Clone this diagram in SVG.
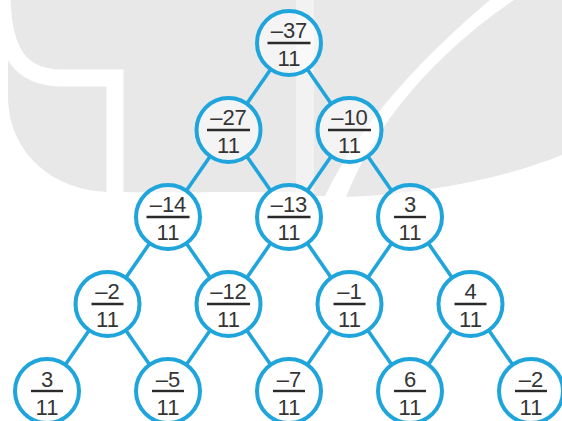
<svg xmlns="http://www.w3.org/2000/svg" width="562" height="421" viewBox="0 0 562 421">
  <style>
    .wm { fill: #e8e8e8; }
    .edge { stroke: #1fa5dc; stroke-width: 3.6; stroke-linecap: butt; }
    .node circle { fill: #ffffff; fill-opacity: 0.5; stroke: #1fa5dc; stroke-width: 4; }
    .bar { stroke: #2a2a2a; stroke-width: 2.4; }
    .num { fill: #353535; font-family: "Liberation Sans", Arial, sans-serif; font-size: 22px; text-anchor: middle; }
  </style>
  <rect width="562" height="421" fill="#ffffff"/>
  <g id="watermark">
    <path class="wm" d="M8,0 H296 V192 H112 C52,192 8,152 8,96 Z"/>
    <path d="M2,-4 C3,55 22,78 62,78 L115,78 L115,200" fill="none" stroke="#ffffff" stroke-width="17"/>
    <rect x="296" y="0" width="18" height="192" fill="#f2f2f2"/>
    <path class="wm" d="M314,0 H490 C428,52 360,122 325,196 H314 Z"/>
    <path class="wm" d="M514,0 H562 V155 C500,180 420,194 346,197 C376,120 440,50 514,0 Z"/>
  </g>
  <g id="connectors">
    <line class="edge" x1="270.7" y1="69.3" x2="246.8" y2="103.7"/>
    <line class="edge" x1="307.3" y1="69.3" x2="331.2" y2="103.7"/>
    <line class="edge" x1="210.2" y1="156.3" x2="186.3" y2="190.7"/>
    <line class="edge" x1="246.8" y1="156.3" x2="270.7" y2="190.7"/>
    <line class="edge" x1="331.2" y1="156.3" x2="307.3" y2="190.7"/>
    <line class="edge" x1="367.8" y1="156.3" x2="391.7" y2="190.7"/>
    <line class="edge" x1="149.7" y1="243.3" x2="125.8" y2="277.7"/>
    <line class="edge" x1="186.3" y1="243.3" x2="210.2" y2="277.7"/>
    <line class="edge" x1="270.7" y1="243.3" x2="246.8" y2="277.7"/>
    <line class="edge" x1="307.3" y1="243.3" x2="331.2" y2="277.7"/>
    <line class="edge" x1="391.7" y1="243.3" x2="367.8" y2="277.7"/>
    <line class="edge" x1="428.3" y1="243.3" x2="452.2" y2="277.7"/>
    <line class="edge" x1="89.2" y1="330.3" x2="65.3" y2="364.7"/>
    <line class="edge" x1="125.8" y1="330.3" x2="149.7" y2="364.7"/>
    <line class="edge" x1="210.2" y1="330.3" x2="186.3" y2="364.7"/>
    <line class="edge" x1="246.8" y1="330.3" x2="270.7" y2="364.7"/>
    <line class="edge" x1="331.2" y1="330.3" x2="307.3" y2="364.7"/>
    <line class="edge" x1="367.8" y1="330.3" x2="391.7" y2="364.7"/>
    <line class="edge" x1="452.2" y1="330.3" x2="428.3" y2="364.7"/>
    <line class="edge" x1="488.8" y1="330.3" x2="512.7" y2="364.7"/>
  </g>
  <g id="n0" class="node" transform="translate(289,43)"><circle r="32"/><line class="bar" x1="-21.5" y1="0" x2="21.5" y2="0"/><text class="num" y="-5">–37</text><text class="num" y="22.5">11</text></g>
  <g id="n1a" class="node" transform="translate(228.5,130)"><circle r="32"/><line class="bar" x1="-21.5" y1="0" x2="21.5" y2="0"/><text class="num" y="-5">–27</text><text class="num" y="22.5">11</text></g>
  <g id="n1b" class="node" transform="translate(349.5,130)"><circle r="32"/><line class="bar" x1="-21.5" y1="0" x2="21.5" y2="0"/><text class="num" y="-5">–10</text><text class="num" y="22.5">11</text></g>
  <g id="n2a" class="node" transform="translate(168,217)"><circle r="32"/><line class="bar" x1="-21.5" y1="0" x2="21.5" y2="0"/><text class="num" y="-5">–14</text><text class="num" y="22.5">11</text></g>
  <g id="n2b" class="node" transform="translate(289,217)"><circle r="32"/><line class="bar" x1="-21.5" y1="0" x2="21.5" y2="0"/><text class="num" y="-5">–13</text><text class="num" y="22.5">11</text></g>
  <g id="n2c" class="node" transform="translate(410,217)"><circle r="32"/><line class="bar" x1="-16" y1="0" x2="16" y2="0"/><text class="num" y="-5">3</text><text class="num" y="22.5">11</text></g>
  <g id="n3a" class="node" transform="translate(107.5,304)"><circle r="32"/><line class="bar" x1="-16" y1="0" x2="16" y2="0"/><text class="num" y="-5">–2</text><text class="num" y="22.5">11</text></g>
  <g id="n3b" class="node" transform="translate(228.5,304)"><circle r="32"/><line class="bar" x1="-21.5" y1="0" x2="21.5" y2="0"/><text class="num" y="-5">–12</text><text class="num" y="22.5">11</text></g>
  <g id="n3c" class="node" transform="translate(349.5,304)"><circle r="32"/><line class="bar" x1="-16" y1="0" x2="16" y2="0"/><text class="num" y="-5">–1</text><text class="num" y="22.5">11</text></g>
  <g id="n3d" class="node" transform="translate(470.5,304)"><circle r="32"/><line class="bar" x1="-16" y1="0" x2="16" y2="0"/><text class="num" y="-5">4</text><text class="num" y="22.5">11</text></g>
  <g id="n4a" class="node" transform="translate(47,391)"><circle r="32"/><line class="bar" x1="-16" y1="0" x2="16" y2="0"/><text class="num" y="-4">3</text><text class="num" y="23.5">11</text></g>
  <g id="n4b" class="node" transform="translate(168,391)"><circle r="32"/><line class="bar" x1="-16" y1="0" x2="16" y2="0"/><text class="num" y="-4">–5</text><text class="num" y="23.5">11</text></g>
  <g id="n4c" class="node" transform="translate(289,391)"><circle r="32"/><line class="bar" x1="-16" y1="0" x2="16" y2="0"/><text class="num" y="-4">–7</text><text class="num" y="23.5">11</text></g>
  <g id="n4d" class="node" transform="translate(410,391)"><circle r="32"/><line class="bar" x1="-16" y1="0" x2="16" y2="0"/><text class="num" y="-4">6</text><text class="num" y="23.5">11</text></g>
  <g id="n4e" class="node" transform="translate(531,391)"><circle r="32"/><line class="bar" x1="-16" y1="0" x2="16" y2="0"/><text class="num" y="-4">–2</text><text class="num" y="23.5">11</text></g>
</svg>
